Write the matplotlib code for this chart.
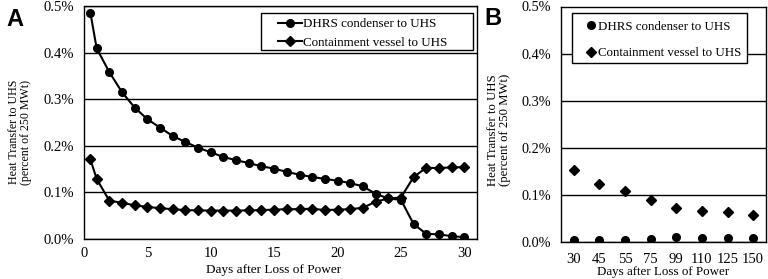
import matplotlib
matplotlib.use("Agg")
import matplotlib.pyplot as plt
from matplotlib.ticker import FuncFormatter, MultipleLocator
from matplotlib.patches import Rectangle

# ---- Data (percent of 250 MWt) ----
days_a = [0.5, 1, 2, 3, 4, 5, 6, 7, 8, 9, 10, 11, 12, 13, 14, 15, 16, 17, 18, 19,
          20, 21, 22, 23, 24, 25, 26, 27, 28, 29, 30]
dhrs_a = [0.486, 0.409, 0.358, 0.315, 0.282, 0.257, 0.239, 0.221, 0.208, 0.196,
          0.186, 0.176, 0.169, 0.163, 0.156, 0.151, 0.144, 0.138, 0.133, 0.129,
          0.125, 0.120, 0.113, 0.097, 0.087, 0.084, 0.032, 0.011, 0.010, 0.006, 0.004]
cv_a = [0.171, 0.129, 0.082, 0.078, 0.072, 0.069, 0.066, 0.064, 0.062, 0.0615,
        0.061, 0.061, 0.061, 0.0615, 0.062, 0.063, 0.064, 0.064, 0.065, 0.062,
        0.063, 0.064, 0.067, 0.080, 0.087, 0.089, 0.133, 0.153, 0.152, 0.154, 0.154]

cats_b = ["30", "45", "55", "75", "99", "110", "125", "150"]
dhrs_b = [0.005, 0.005, 0.005, 0.0068, 0.010, 0.0095, 0.009, 0.0085]
cv_b = [0.153, 0.123, 0.108, 0.090, 0.0715, 0.0666, 0.063, 0.0567]

label_dhrs = "DHRS condenser to UHS"
label_cv = "Containment vessel to UHS"
ylabel = "Heat Transfer to UHS\n(percent of 250 MWt)"
xlabel = "Days after Loss of Power"

plt.rcParams['font.family'] = ['Liberation Serif', 'DejaVu Serif']
plt.rcParams['font.size'] = 10

W, H = 768, 279
fig = plt.figure(figsize=(W / 100, H / 100), dpi=100)

def fx(px):
    return px / W

def fy(py):
    return 1 - py / H

def ax_rect(l, r, t, b):
    return [l / W, 1 - b / H, (r - l) / W, (b - t) / H]

pct = FuncFormatter(lambda v, p: f"{v:.1f}%")

def style(ax, xfs, yfs, xpad):
    ax.set_ylim(0, 0.5)
    ax.yaxis.set_major_locator(MultipleLocator(0.1))
    ax.yaxis.set_major_formatter(pct)
    ax.grid(axis='y', color='black', linewidth=1.0)
    ax.set_axisbelow(True)
    for s in ax.spines.values():
        s.set_color('black')
        s.set_linewidth(1.0)
    ax.tick_params(length=0, colors='black')
    ax.tick_params(axis='y', labelsize=yfs, pad=7)
    ax.tick_params(axis='x', labelsize=xfs, pad=xpad)

def frame(x0, y0, x1, y1):
    fig.patches.append(Rectangle((fx(x0), fy(y1)), fx(x1) - fx(x0), fy(y0) - fy(y1),
                                 transform=fig.transFigure, facecolor='white',
                                 edgecolor='black', linewidth=1.0, zorder=3))

# ---- Panel A ----
axA = fig.add_axes(ax_rect(84, 477, 6, 239))
style(axA, 10.5, 10.5, 6)
axA.plot(days_a, dhrs_a, color='black', lw=1.5, marker='o', ms=5.5, label=label_dhrs)
axA.plot(days_a, cv_a, color='black', lw=1.5, marker='D', ms=5, label=label_cv)
axA.set_xlim(0, 31)
axA.set_xticks([0, 5, 10, 15, 20, 25, 30])

frame(261, 12.7, 473, 50)
legA = fig.legend(*axA.get_legend_handles_labels(), loc='upper left',
                  bbox_to_anchor=(fx(278), fy(18.0)), bbox_transform=fig.transFigure,
                  frameon=False, fontsize=9.4, handlelength=1.82, handletextpad=0.12,
                  borderpad=0, labelspacing=0.52, borderaxespad=0)
legA.set_zorder(4)

# ---- Panel B ----
axB = fig.add_axes(ax_rect(561, 766, 6.5, 242))
style(axB, 10.5, 10.3, 8)
xb = list(range(len(cats_b)))
axB.plot(xb, dhrs_b, ls='none', color='black', marker='o', ms=5.5, label=label_dhrs)
axB.plot(xb, cv_b, ls='none', color='black', marker='D', ms=5.5, label=label_cv)
axB.set_xlim(-0.5, len(cats_b) - 0.5)
axB.set_xticks(xb)
axB.set_xticklabels(cats_b)

frame(572, 12.7, 747, 63)
legB = fig.legend(*axB.get_legend_handles_labels(), loc='upper left',
                  bbox_to_anchor=(fx(587), fy(20.5)), bbox_transform=fig.transFigure,
                  frameon=False, fontsize=9.3, handlelength=0.55, handletextpad=0.3,
                  borderpad=0, labelspacing=1.15, borderaxespad=0)
legB.set_zorder(4)

# ---- Axis titles ----
fig.text(fx(20), fy(132), ylabel, rotation=90, fontsize=8.6, ha='center', va='center',
         multialignment='center', linespacing=1.0)
fig.text(fx(499), fy(130), ylabel, rotation=90, fontsize=9.2, ha='center', va='center',
         multialignment='center', linespacing=1.0)
fig.text(fx(274), fy(270), xlabel, fontsize=9.5, ha='center', va='center')
fig.text(fx(663), fy(272), xlabel, fontsize=9.4, ha='center', va='center')

# ---- Panel letters ----
fig.text(fx(14.5), fy(26), "A", fontsize=17, fontweight='bold',
         family=['Liberation Sans', 'DejaVu Sans'], ha='center', va='baseline')
fig.text(fx(492.5), fy(25), "B", fontsize=17, fontweight='bold',
         family=['Liberation Sans', 'DejaVu Sans'], ha='center', va='baseline')

fig.savefig("out.png", dpi=100)
